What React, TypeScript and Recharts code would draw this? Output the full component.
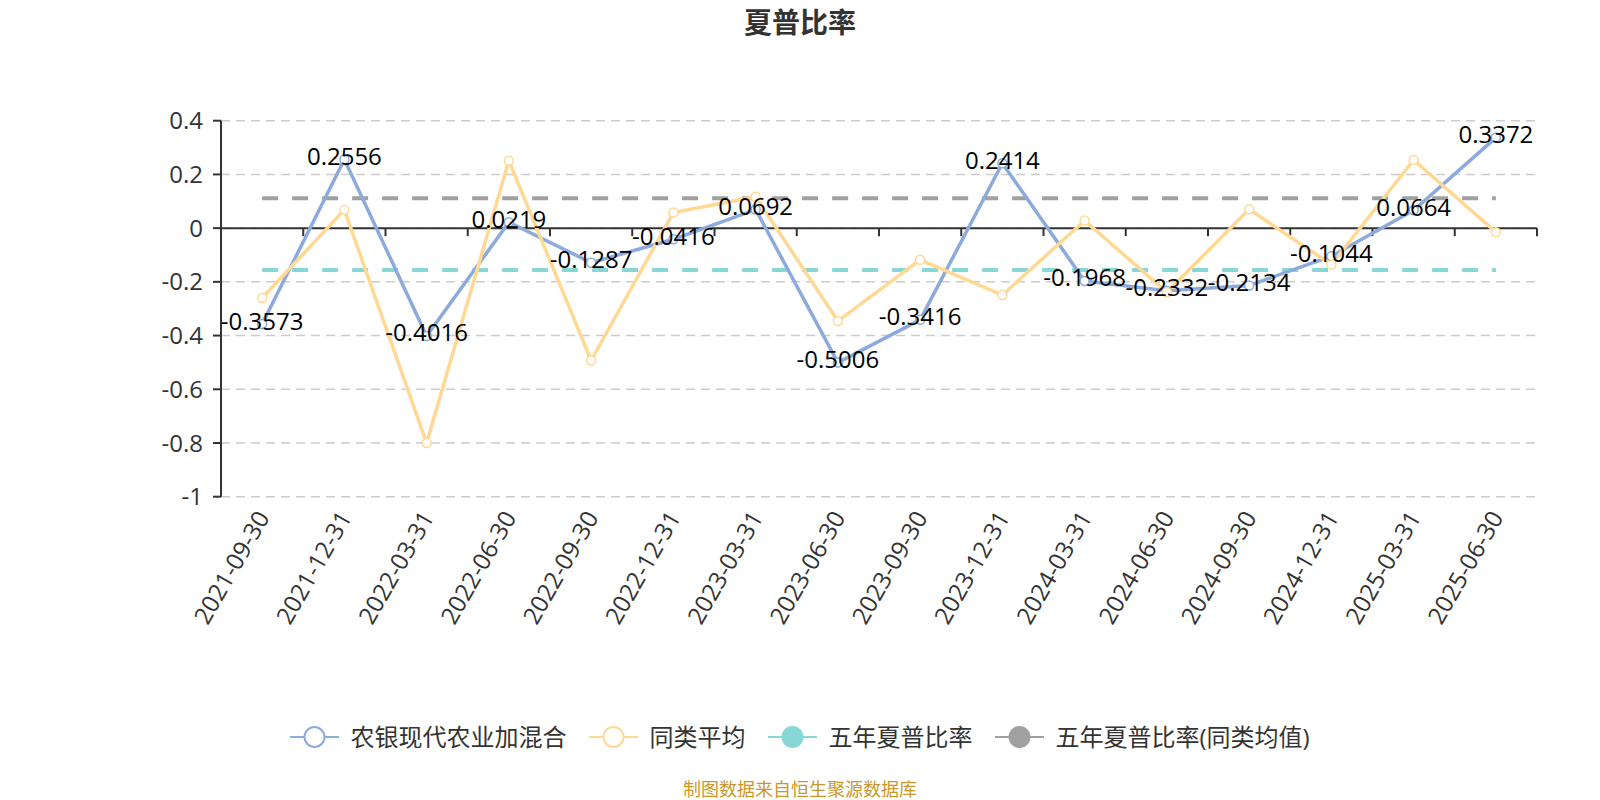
import { LineChart, Line, XAxis, YAxis, CartesianGrid, ReferenceLine, LabelList } from 'recharts'

// 夏普比率 - fund vs peer average, with five-year reference levels

const dates = [
  '2021-09-30', '2021-12-31', '2022-03-31', '2022-06-30',
  '2022-09-30', '2022-12-31', '2023-03-31', '2023-06-30',
  '2023-09-30', '2023-12-31', '2024-03-31', '2024-06-30',
  '2024-09-30', '2024-12-31', '2025-03-31', '2025-06-30',
]
const fundSharpe = [
  -0.3573, 0.2556, -0.4016, 0.0219, -0.1287, -0.0416, 0.0692, -0.5006,
  -0.3416, 0.2414, -0.1968, -0.2332, -0.2134, -0.1044, 0.0664, 0.3372,
]
const peerAvg = [
  -0.26, 0.068, -0.8, 0.251, -0.493, 0.058, 0.117, -0.346,
  -0.118, -0.249, 0.028, -0.239, 0.07, -0.136, 0.254, -0.015,
]
const fiveYearSharpe = -0.156
const fiveYearPeerSharpe = 0.111
const yTicks = [-1, -0.8, -0.6, -0.4, -0.2, 0, 0.2, 0.4]

const COLORS = {
  fund: '#8cabdc',
  peer: '#ffd894',
  five: '#88d7d7',
  fivePeer: '#a0a0a0',
}

const legendItems = [
  { label: '农银现代农业加混合', color: COLORS.fund, filled: false },
  { label: '同类平均', color: COLORS.peer, filled: false },
  { label: '五年夏普比率', color: COLORS.five, filled: true },
  { label: '五年夏普比率(同类均值)', color: COLORS.fivePeer, filled: true },
]

const rows = dates.map((d, i) => ({
  date: d,
  fund: fundSharpe[i],
  peer: peerAvg[i],
  five: fiveYearSharpe,
  fivePeer: fiveYearPeerSharpe,
}))

const FONT = "'Open Sans', 'Noto Sans CJK SC', sans-serif"
const PLOT_WIDTH = 1600 - 221 - 63
const HALF_BAND = PLOT_WIDTH / dates.length / 2

function DateTick(props: any) {
  const { x, y, payload } = props
  return (
    <text
      x={x}
      y={y + 16}
      transform={`rotate(-60, ${x}, ${y + 16})`}
      textAnchor="end"
      dominantBaseline="central"
      fontSize={24}
      fill="#333"
      fontFamily={FONT}
    >
      {payload.value}
    </text>
  )
}

function ZeroAxis(props: any) {
  const { x1, y1, x2 } = props
  const step = (x2 - x1) / dates.length
  return (
    <g>
      <line x1={x1} y1={y1} x2={x2} y2={y1} stroke="#333" strokeWidth={2} />
      {Array.from({ length: dates.length + 1 }, (_, i) => (
        <line
          key={i}
          x1={x1 + i * step}
          x2={x1 + i * step}
          y1={y1}
          y2={y1 + 8}
          stroke="#333"
          strokeWidth={2}
        />
      ))}
    </g>
  )
}

function ValueLabel(props: any) {
  const { x, y, value } = props
  return (
    <text
      x={x}
      y={y - 4}
      textAnchor="middle"
      dominantBaseline="central"
      fontSize={24}
      fill="#000"
      fontFamily={FONT}
    >
      {String(value)}
    </text>
  )
}

export default function App() {
  return (
    <div
      style={{
        position: 'absolute',
        left: 0,
        top: 0,
        width: 1600,
        height: 800,
        background: '#fff',
        fontFamily: FONT,
      }}
    >
      <div
        style={{
          position: 'absolute',
          top: 8,
          left: 0,
          width: 1600,
          textAlign: 'center',
          fontSize: 28,
          lineHeight: '28px',
          fontWeight: 'bold',
          color: '#333',
        }}
      >
        夏普比率
      </div>

      <LineChart
        width={1600}
        height={800}
        data={rows}
        margin={{ top: 120.7, right: 63, bottom: 0, left: 0 }}
      >
        <CartesianGrid
          vertical={false}
          stroke="#ccc"
          strokeWidth={1.5}
          strokeDasharray="9 6"
        />
        <XAxis
          dataKey="date"
          interval={0}
          axisLine={false}
          tickLine={false}
          tickSize={0}
          tickMargin={0}
          height={303.3}
          padding={{ left: HALF_BAND, right: HALF_BAND }}
          tick={<DateTick />}
        />
        <YAxis
          width={221}
          domain={[-1, 0.4]}
          ticks={yTicks}
          allowDataOverflow
          axisLine={{ stroke: '#333', strokeWidth: 2 }}
          tickLine={{ stroke: '#333', strokeWidth: 2 }}
          tickSize={8}
          tickMargin={10}
          tick={{ fontSize: 24, fill: '#333', fontFamily: FONT }}
          tickFormatter={(v: number) => String(Number(v.toFixed(1)))}
        />
        <ReferenceLine y={0} shape={<ZeroAxis />} />
        <Line
          dataKey="five"
          stroke={COLORS.five}
          strokeWidth={4}
          strokeDasharray="16 14"
          dot={false}
          activeDot={false}
          isAnimationActive={false}
        />
        <Line
          dataKey="fivePeer"
          stroke={COLORS.fivePeer}
          strokeWidth={4}
          strokeDasharray="16 14"
          dot={false}
          activeDot={false}
          isAnimationActive={false}
        />
        <Line
          dataKey="fund"
          stroke={COLORS.fund}
          strokeWidth={3.5}
          dot={{ r: 4.5, fill: '#fff', stroke: COLORS.fund, strokeWidth: 1.5 }}
          activeDot={false}
          isAnimationActive={false}
        >
          <LabelList dataKey="fund" content={<ValueLabel />} />
        </Line>
        <Line
          dataKey="peer"
          stroke={COLORS.peer}
          strokeWidth={3.5}
          dot={{ r: 4.5, fill: '#fff', stroke: COLORS.peer, strokeWidth: 1.5 }}
          activeDot={false}
          isAnimationActive={false}
        />
      </LineChart>

      <div
        style={{
          position: 'absolute',
          top: 721,
          left: 0,
          width: 1600,
          display: 'flex',
          justifyContent: 'center',
          gap: 23,
          fontSize: 24,
          lineHeight: '32px',
          color: '#333',
        }}
      >
        {legendItems.map((item) => (
          <div key={item.label} style={{ display: 'flex', alignItems: 'center', gap: 11 }}>
            <svg width={49} height={24}>
              <line x1={0} y1={12} x2={49} y2={12} stroke={item.color} strokeWidth={2} />
              <circle
                cx={24.5}
                cy={12}
                r={10}
                fill={item.filled ? item.color : '#fff'}
                stroke={item.color}
                strokeWidth={2}
              />
            </svg>
            <span>{item.label}</span>
          </div>
        ))}
      </div>

      <div
        style={{
          position: 'absolute',
          top: 779,
          left: 0,
          width: 1600,
          textAlign: 'center',
          fontSize: 18,
          lineHeight: '20px',
          color: '#c8982c',
        }}
      >
        制图数据来自恒生聚源数据库
      </div>
    </div>
  )
}
